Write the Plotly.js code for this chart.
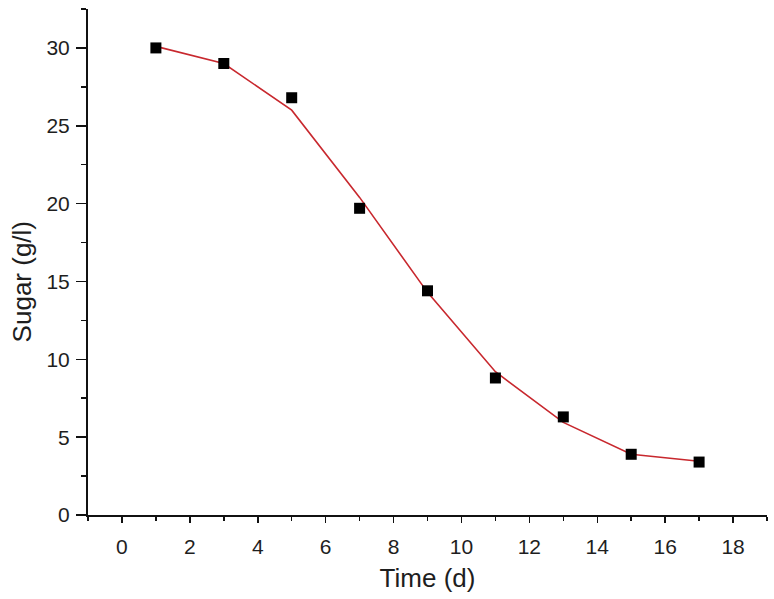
<!DOCTYPE html>
<html>
<head>
<meta charset="utf-8">
<script src="https://cdn.plot.ly/plotly-3.0.1.min.js"></script>
<style>html,body{margin:0;padding:0;background:#fff;}#chart{width:774px;height:599px;}</style>
</head>
<body>
<div id="chart"></div>
<script>
const timeDays = [1, 3, 5, 7, 9, 11, 13, 15, 17];
const sugarMeasured = [30.0, 29.0, 26.8, 19.7, 14.4, 8.8, 6.3, 3.9, 3.4];
const sugarFit = [30.1, 29.0, 26.0, 20.4, 14.3, 9.2, 5.95, 3.9, 3.45];
const xTickVals = [0, 2, 4, 6, 8, 10, 12, 14, 16, 18];
const yTickVals = [0, 5, 10, 15, 20, 25, 30];

const fontFam = '"Liberation Sans", Arial, sans-serif';

const traces = [
  {
    x: timeDays, y: sugarFit, mode: 'lines', type: 'scatter',
    line: {color: '#c8282e', width: 1.6}, showlegend: false, hoverinfo: 'skip'
  },
  {
    x: timeDays, y: sugarMeasured, mode: 'markers', type: 'scatter',
    marker: {symbol: 'square', size: 11, color: '#000'}, showlegend: false
  }
];

const layout = {
  width: 774, height: 599,
  margin: {l: 88, r: 7, t: 9, b: 84},
  paper_bgcolor: '#fff', plot_bgcolor: '#fff',
  font: {family: fontFam, color: '#1e1e1e'},
  xaxis: {
    range: [-1, 19], tickvals: xTickVals, ticks: 'outside', ticklen: 6, tickwidth: 1.5,
    tickcolor: '#111', showline: true, linecolor: '#111', linewidth: 2, showgrid: false, zeroline: false,
    tickfont: {size: 21, color: '#1e1e1e'}, ticklabelstandoff: 6,
    minor: {dtick: 1, tick0: 0, ticks: 'outside', ticklen: 4, tickwidth: 1.5, tickcolor: '#111', showgrid: false},
    title: {text: 'Time (d)', font: {size: 26, color: '#1e1e1e'}, standoff: 12}
  },
  yaxis: {
    range: [0, 32.5], tickvals: yTickVals, ticks: 'outside', ticklen: 10, tickwidth: 1.5,
    tickcolor: '#111', showline: true, linecolor: '#111', linewidth: 2, showgrid: false, zeroline: false,
    tickfont: {size: 21, color: '#1e1e1e'}, ticklabelstandoff: 2,
    minor: {dtick: 2.5, tick0: 0, ticks: 'outside', ticklen: 5, tickwidth: 1.5, tickcolor: '#111', showgrid: false}
  },
  annotations: [{
    text: 'Sugar (g/l)', textangle: -90, showarrow: false,
    xref: 'paper', yref: 'paper', x: -0.097, y: 0.46, xanchor: 'center', yanchor: 'middle',
    font: {size: 26, color: '#1e1e1e'}
  }]
};

Plotly.newPlot('chart', traces, layout, {displayModeBar: false, staticPlot: true});
</script>
</body>
</html>
